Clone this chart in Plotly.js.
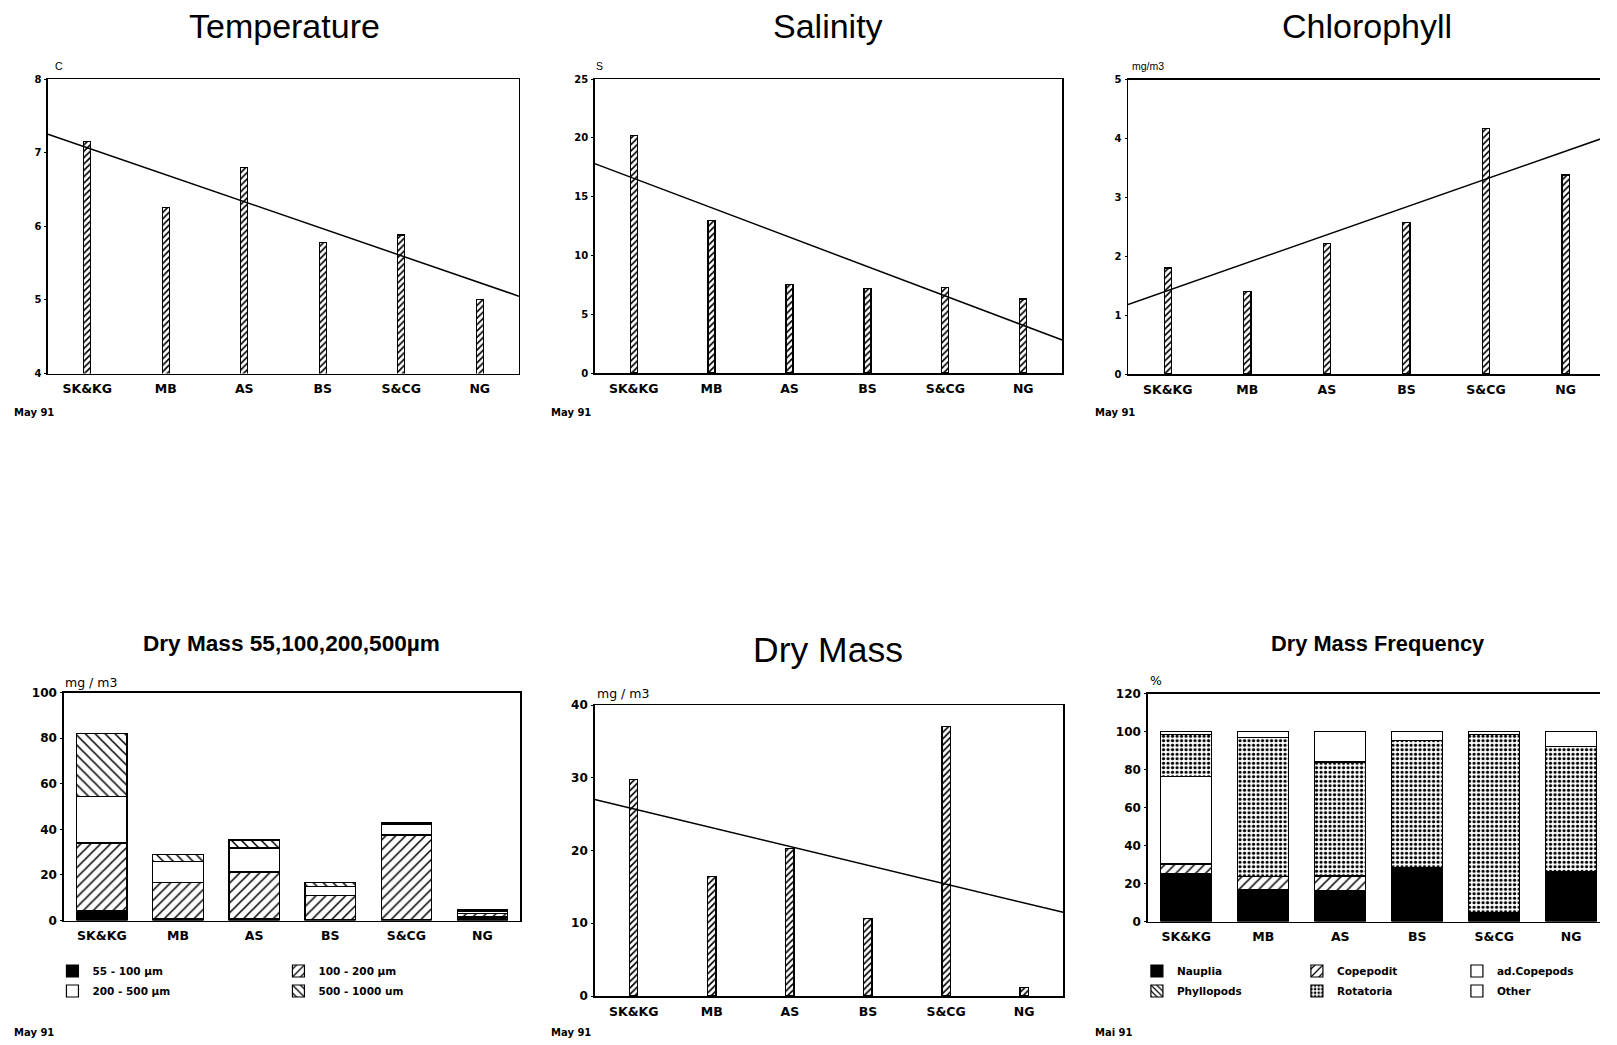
<!DOCTYPE html>
<html><head><meta charset="utf-8">
<script src="https://cdn.plot.ly/plotly-3.0.1.min.js"></script>
<style>html,body{margin:0;padding:0;background:#fff;} #chart{width:1617px;height:1045px;}</style>
</head><body><div id="chart"></div>
<script>
// ---------- data ----------
const stations = ['SK&KG', 'MB', 'AS', 'BS', 'S&CG', 'NG'];

const temperature = [7.15, 6.25, 6.8, 5.78, 5.88, 5.0];
const temperatureTrend = [7.25, 5.05];      // regression line at left / right plot edge
const salinity = [20.2, 13.0, 7.5, 7.2, 7.3, 6.3];
const salinityTrend = [17.8, 2.8];
const chlorophyll = [1.8, 1.4, 2.22, 2.57, 4.17, 3.38];
const chlorophyllTrend = [1.18, 4.02];
const dryMass = [29.8, 16.4, 20.3, 10.7, 37.1, 1.2];
const dryMassTrend = [27.0, 11.5];

const sizeLabels = ['55 - 100 µm', '100 - 200 µm', '200 - 500 µm', '500 - 1000 um'];
const size55to100 = [4.5, 0.8, 0.8, 0.5, 0.5, 1.5];
const size100to200 = [29.5, 16.0, 20.5, 10.5, 37.0, 1.5];
const size200to500 = [20.5, 9.0, 10.5, 4.0, 4.5, 1.2];
const size500to1000 = [27.5, 3.2, 3.5, 1.5, 0.8, 0.8];

const groupLabels = ['Nauplia', 'Phyllopods', 'Copepodit', 'ad.Copepods', 'Rotatoria', 'Other'];
const nauplia = [25.3, 17.0, 16.5, 28.3, 4.5, 26.3];
const phyllopods = [0, 0, 0, 0, 0, 0];
const copepodit = [5.0, 6.5, 7.5, 0, 0, 0];
const adCopepods = [46.0, 0, 0, 0, 0, 0];
const rotatoria = [22.0, 73.5, 60.0, 67.0, 94.0, 66.0];
const other = [1.7, 3.0, 16.0, 4.7, 1.5, 7.7];

// ---------- helpers ----------
const W = 1617, H = 1045;
const idx = stations.map((_, i) => i);
const trendX = [-0.5, stations.length - 0.5];
const xd = (a, b) => [a / W, b / W];
const yd = (top, bottom) => [1 - bottom / H, 1 - top / H];

const xTickFont = {family: 'DejaVu Sans', size: 12.5, weight: 'bold', color: '#000'};
const yTickBot = {family: 'DejaVu Sans', size: 12, weight: 'bold', color: '#000'};
const yTickTop = {family: 'DejaVu Sans', size: 10, weight: 'bold', color: '#000'};

function xAxis(dom, right, anchor) {
  return {domain: dom, anchor: anchor, type: 'linear', range: [-0.5, right], tickmode: 'array', tickvals: idx, ticktext: stations,
    showline: true, linecolor: '#000', linewidth: 1.5, mirror: true, ticks: '', showgrid: false, zeroline: false,
    tickfont: xTickFont, ticklabelstandoff: 3, fixedrange: true};
}
function yAxis(dom, range, dtick, mirror, font, anchor) {
  return {domain: dom, anchor: anchor, range: range, dtick: dtick, tick0: 0, showline: true, linecolor: '#000', linewidth: 1.5,
    mirror: mirror, ticks: 'outside', ticklen: 2, tickwidth: 1, tickcolor: '#000', showgrid: false, zeroline: false,
    tickfont: font, ticklabelstandoff: 1, fixedrange: true};
}

const fwd = (size, sol) => ({shape: '/', fgcolor: '#000', bgcolor: '#fff', size: size, solidity: sol, fillmode: 'replace'});
const back = (size, sol) => ({shape: '\\', fgcolor: '#000', bgcolor: '#fff', size: size, solidity: sol, fillmode: 'replace'});
const dots = {shape: '.', fgcolor: '#000', bgcolor: '#fff', size: 4.5, solidity: 0.4, fillmode: 'replace'};
const outline = {color: '#000', width: 1.2};

function thinBars(vals, n, w) {
  return {type: 'bar', x: idx, y: vals, xaxis: 'x' + n, yaxis: 'y' + n, width: w, showlegend: false,
    marker: {color: '#fff', pattern: fwd(4.5, 0.38), line: outline}, hoverinfo: 'skip'};
}
function trend(vals, n) {
  return {type: 'scatter', mode: 'lines', x: trendX, y: vals, xaxis: 'x' + n, yaxis: 'y' + n,
    line: {color: '#000', width: 1.5}, showlegend: false, hoverinfo: 'skip'};
}
function stackBar(vals, name, n, marker, legend) {
  return {type: 'bar', x: idx, y: vals, name: name, xaxis: 'x' + n, yaxis: 'y' + n, width: 0.66,
    marker: Object.assign({line: outline}, marker), legend: legend, hoverinfo: 'skip'};
}

const data = [
  thinBars(temperature, '', 0.09), trend(temperatureTrend, ''),
  thinBars(salinity, 2, 0.09), trend(salinityTrend, 2),
  thinBars(chlorophyll, 3, 0.09), trend(chlorophyllTrend, 3),
  stackBar(size55to100, sizeLabels[0], 4, {color: '#000'}, 'legend'),
  stackBar(size100to200, sizeLabels[1], 4, {color: '#fff', pattern: fwd(7, 0.22)}, 'legend'),
  stackBar(size200to500, sizeLabels[2], 4, {color: '#fff'}, 'legend2'),
  stackBar(size500to1000, sizeLabels[3], 4, {color: '#fff', pattern: back(7, 0.22)}, 'legend2'),
  thinBars(dryMass, 5, 0.105), trend(dryMassTrend, 5),
  stackBar(nauplia, groupLabels[0], 6, {color: '#000'}, 'legend3'),
  stackBar(phyllopods, groupLabels[1], 6, {color: '#fff', pattern: back(5, 0.3)}, 'legend4'),
  stackBar(copepodit, groupLabels[2], 6, {color: '#fff', pattern: fwd(7, 0.22)}, 'legend3'),
  stackBar(adCopepods, groupLabels[3], 6, {color: '#fff'}, 'legend3'),
  stackBar(rotatoria, groupLabels[4], 6, {color: '#fff', pattern: dots}, 'legend4'),
  stackBar(other, groupLabels[5], 6, {color: '#fff'}, 'legend4')
];

const legFont = {family: 'DejaVu Sans', size: 10.5, weight: 'bold', color: '#000'};
function leg(x, y, ew) {
  return {x: x / W, y: 1 - y / H, xanchor: 'left', yanchor: 'middle', orientation: 'h', entrywidth: ew,
    entrywidthmode: 'pixels', font: legFont, bgcolor: 'rgba(0,0,0,0)', itemwidth: 30, traceorder: 'normal',
    itemclick: false, itemdoubleclick: false};
}

function ann(text, x, y, font, xanchor) {
  return {text: text, x: x / W, y: 1 - y / H, xref: 'paper', yref: 'paper', xanchor: xanchor || 'center',
    yanchor: 'middle', showarrow: false, font: font};
}
const bigTitle = {family: 'Liberation Sans', size: 34, color: '#000'};
const dryTitle = {family: 'Liberation Sans', size: 35.5, color: '#000'};
const sizeTitle = {family: 'Liberation Sans', size: 22.6, weight: 'bold', color: '#000'};
const freqTitle = {family: 'Liberation Sans', size: 21.8, weight: 'bold', color: '#000'};
const unitTop = {family: 'Liberation Sans', size: 10.5, color: '#000'};
const unitBot = {family: 'DejaVu Sans', size: 12.5, color: '#000'};
const dateFont = {family: 'DejaVu Sans', size: 10, weight: 'bold', color: '#000'};

const layout = {
  width: W, height: H, margin: {l: 0, r: 0, t: 0, b: 0}, paper_bgcolor: '#fff', plot_bgcolor: '#fff',
  barmode: 'stack', bargap: 0, showlegend: true,
  xaxis: xAxis(xd(48.5, 524.5), 5.5, 'y'),
  yaxis: yAxis(yd(79, 373.5), [4, 8], 1, true, yTickTop, 'x'),
  xaxis2: xAxis(xd(601, 1073.5), 5.5, 'y2'),
  yaxis2: yAxis(yd(79, 373), [0, 25], 5, true, yTickTop, 'x2'),
  xaxis3: xAxis(xd(1140, 1617), -0.5 + 477 / 80.4, 'y3'),
  yaxis3: yAxis(yd(79.5, 374), [0, 5], 1, false, yTickTop, 'x3'),
  xaxis4: xAxis(xd(64.5, 526), 5.5, 'y4'),
  yaxis4: yAxis(yd(692.5, 920.5), [0, 100], 20, true, yTickBot, 'x4'),
  xaxis5: xAxis(xd(601, 1074.5), 5.5, 'y5'),
  yaxis5: yAxis(yd(705, 996), [0, 40], 10, true, yTickBot, 'x5'),
  xaxis6: xAxis(xd(1160, 1617), -0.5 + 457 / 77.8, 'y6'),
  yaxis6: yAxis(yd(693.5, 921.5), [0, 120], 20, false, yTickBot, 'x6'),
  legend: leg(53, 971, 181),
  legend2: leg(53, 991, 181),
  legend3: leg(1149, 971, 115),
  legend4: leg(1149, 991, 115),
  annotations: [
    ann('Temperature', 288, 26, bigTitle),
    ann('Salinity', 837, 26, bigTitle),
    ann('Chlorophyll', 1382, 26, bigTitle),
    ann('Dry Mass 55,100,200,500µm', 295, 643, sizeTitle),
    ann('Dry Mass', 837, 650, dryTitle),
    ann('Dry Mass Frequency', 1392, 643, freqTitle),
    ann('C', 54, 66, unitTop, 'left'),
    ann('S', 600, 66, unitTop, 'left'),
    ann('mg/m3', 1142, 66, unitTop, 'left'),
    ann('mg / m3', 64, 682, unitBot, 'left'),
    ann('mg / m3', 601, 693, unitBot, 'left'),
    ann('%', 1160, 680, unitBot, 'left'),
    ann('May 91', 12, 412, dateFont, 'left'),
    ann('May 91', 555, 412, dateFont, 'left'),
    ann('May 91', 1105, 412, dateFont, 'left'),
    ann('May 91', 12, 1032, dateFont, 'left'),
    ann('May 91', 555, 1032, dateFont, 'left'),
    ann('Mai 91', 1105, 1032, dateFont, 'left')
  ]
};

Plotly.newPlot('chart', data, layout, {staticPlot: true, displayModeBar: false});
</script></body></html>
